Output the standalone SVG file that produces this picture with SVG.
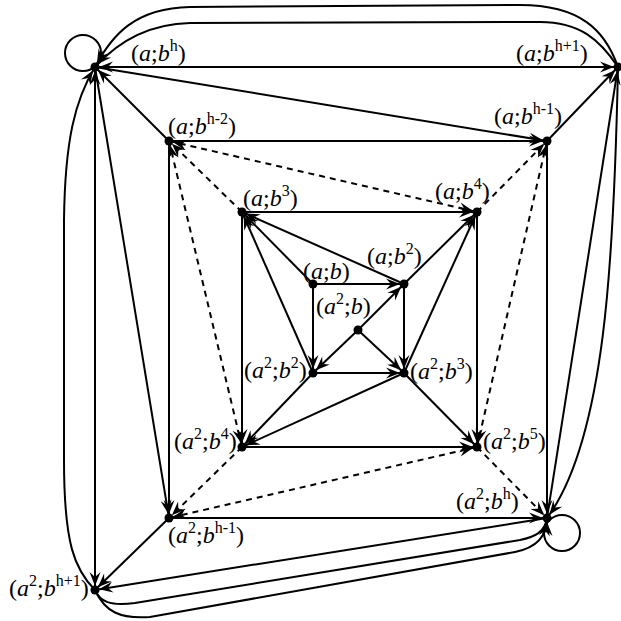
<svg xmlns="http://www.w3.org/2000/svg" width="621" height="621" viewBox="0 0 621 621">
<defs>
<marker id="ar" viewBox="-16 -6 20 12" refX="4" refY="0" markerWidth="20" markerHeight="12" markerUnits="userSpaceOnUse" orient="auto-start-reverse">
<path d="M0,0 L-14,-5.5 L-9,0 L-14,5.5 Z" fill="#000"/>
</marker>
<style>
.e{fill:none;stroke:#000;stroke-width:2}
.d{fill:none;stroke:#000;stroke-width:2;stroke-dasharray:6 5}
.a{marker-end:url(#ar)}
.b{marker-start:url(#ar);marker-end:url(#ar)}
.n{fill:#000}
.l{fill:none;stroke:#000;stroke-width:2}
text{font-family:"Liberation Serif","Times New Roman",serif;font-size:24px;fill:#000}
.i{font-style:italic}
.s{font-size:16px}
</style>
</defs>
<rect width="621" height="621" fill="#fff"/>
<g id="connectors">
<line class="e a" x1="313" y1="284" x2="404" y2="284"/>
<line class="e a" x1="313" y1="284" x2="313" y2="373"/>
<line class="e a" x1="404" y1="284" x2="404" y2="373"/>
<line class="e a" x1="313" y1="373" x2="404" y2="373"/>
<line class="e a" x1="358" y1="330" x2="404" y2="284"/>
<line class="e a" x1="358" y1="330" x2="313" y2="373"/>
<line class="e a" x1="358" y1="330" x2="404" y2="373"/>
<line class="e a" x1="313" y1="284" x2="242" y2="212"/>
<line class="e a" x1="404" y1="284" x2="242" y2="212"/>
<line class="e a" x1="313" y1="373" x2="242" y2="212"/>
<line class="e a" x1="242" y1="212" x2="477" y2="212"/>
<line class="e a" x1="404" y1="284" x2="477" y2="212"/>
<line class="e a" x1="404" y1="373" x2="477" y2="212"/>
<line class="e a" x1="242" y1="212" x2="242" y2="447"/>
<line class="e a" x1="313" y1="373" x2="242" y2="447"/>
<line class="e a" x1="404" y1="373" x2="242" y2="447"/>
<line class="e a" x1="242" y1="447" x2="477" y2="447"/>
<line class="e a" x1="404" y1="373" x2="477" y2="447"/>
<line class="e a" x1="477" y1="212" x2="477" y2="447"/>
<line class="e a" x1="169" y1="141" x2="547" y2="141"/>
<line class="e a" x1="169" y1="141" x2="169" y2="518"/>
<line class="e a" x1="547" y1="141" x2="547" y2="518"/>
<line class="e a" x1="169" y1="518" x2="547" y2="518"/>
<line class="e a" x1="169" y1="141" x2="95" y2="67"/>
<line class="e a" x1="547" y1="141" x2="618" y2="67"/>
<line class="e a" x1="169" y1="518" x2="95" y2="590"/>
<line class="e b" x1="95" y1="67" x2="618" y2="67"/>
<line class="e b" x1="95" y1="67" x2="95" y2="590"/>
<line class="e a" x1="95" y1="67" x2="547" y2="141"/>
<line class="e a" x1="95" y1="67" x2="169" y2="518"/>
<line class="e a" x1="547" y1="518" x2="95" y2="590"/>
<line class="e a" x1="547" y1="518" x2="618" y2="67"/>
<path class="e a" d="M618,67 C605,30 580,5 520,5 L190,7 C135,8 112,35 95,67"/>
<path class="e a" d="M618,67 C600,40 580,22 540,22 L190,23 C145,24 115,45 95,67"/>
<path class="e a" d="M95,590 C75,570 64,545 64,460 L64,220 C65,140 75,100 95,67"/>
<path class="e a" d="M618,67 C614,260 605,440 547,518"/>
<path class="e a" d="M95,590 C100,602 110,606 135,603 L520,540 C535,537 545,532 547,518"/>
<path class="e a" d="M95,590 C105,612 120,619 150,617 L515,552 C535,548 547,538 547,518"/>
<line class="d a" x1="242" y1="212" x2="169" y2="141"/>
<line class="d b" x1="169" y1="141" x2="477" y2="212"/>
<line class="d a" x1="477" y1="212" x2="547" y2="141"/>
<line class="d b" x1="169" y1="141" x2="242" y2="447"/>
<line class="d a" x1="242" y1="447" x2="169" y2="518"/>
<line class="d b" x1="477" y1="447" x2="169" y2="518"/>
<line class="d a" x1="477" y1="447" x2="547" y2="518"/>
<line class="d b" x1="477" y1="447" x2="547" y2="141"/>
<circle class="l" cx="83" cy="53" r="18"/>
<circle class="l" cx="562" cy="533" r="18"/>
</g>
<g id="n-abh"><circle class="n" cx="95" cy="67" r="4.5"/><text x="131" y="61">(<tspan class="i">a</tspan>;<tspan class="i">b</tspan><tspan class="s" dy="-10">h</tspan><tspan dy="10">)</tspan></text></g>
<g id="n-abh1"><circle class="n" cx="618" cy="67" r="4.5"/><text x="516" y="61">(<tspan class="i">a</tspan>;<tspan class="i">b</tspan><tspan class="s" dy="-10">h+1</tspan><tspan dy="10">)</tspan></text></g>
<g id="n-abhm1"><circle class="n" cx="547" cy="141" r="4.5"/><text x="494" y="124">(<tspan class="i">a</tspan>;<tspan class="i">b</tspan><tspan class="s" dy="-10">h-1</tspan><tspan dy="10">)</tspan></text></g>
<g id="n-abhm2"><circle class="n" cx="169" cy="141" r="4.5"/><text x="168" y="134">(<tspan class="i">a</tspan>;<tspan class="i">b</tspan><tspan class="s" dy="-10">h-2</tspan><tspan dy="10">)</tspan></text></g>
<g id="n-ab3"><circle class="n" cx="242" cy="212" r="4.5"/><text x="243" y="206">(<tspan class="i">a</tspan>;<tspan class="i">b</tspan><tspan class="s" dy="-10">3</tspan><tspan dy="10">)</tspan></text></g>
<g id="n-ab4"><circle class="n" cx="477" cy="212" r="4.5"/><text x="435" y="199">(<tspan class="i">a</tspan>;<tspan class="i">b</tspan><tspan class="s" dy="-10">4</tspan><tspan dy="10">)</tspan></text></g>
<g id="n-ab"><circle class="n" cx="313" cy="284" r="4.5"/><text x="303" y="279">(<tspan class="i">a</tspan>;<tspan class="i">b</tspan>)</text></g>
<g id="n-ab2"><circle class="n" cx="404" cy="284" r="4.5"/><text x="367" y="264">(<tspan class="i">a</tspan>;<tspan class="i">b</tspan><tspan class="s" dy="-10">2</tspan><tspan dy="10">)</tspan></text></g>
<g id="n-a2b"><circle class="n" cx="358" cy="330" r="4.5"/><text x="316" y="314">(<tspan class="i">a</tspan><tspan class="s" dy="-10">2</tspan><tspan dy="10">;</tspan><tspan class="i">b</tspan>)</text></g>
<g id="n-a2b2"><circle class="n" cx="313" cy="373" r="4.5"/><text x="244" y="378">(<tspan class="i">a</tspan><tspan class="s" dy="-10">2</tspan><tspan dy="10">;</tspan><tspan class="i">b</tspan><tspan class="s" dy="-10">2</tspan><tspan dy="10">)</tspan></text></g>
<g id="n-a2b3"><circle class="n" cx="404" cy="373" r="4.5"/><text x="410" y="379">(<tspan class="i">a</tspan><tspan class="s" dy="-10">2</tspan><tspan dy="10">;</tspan><tspan class="i">b</tspan><tspan class="s" dy="-10">3</tspan><tspan dy="10">)</tspan></text></g>
<g id="n-a2b4"><circle class="n" cx="242" cy="447" r="4.5"/><text x="174" y="449">(<tspan class="i">a</tspan><tspan class="s" dy="-10">2</tspan><tspan dy="10">;</tspan><tspan class="i">b</tspan><tspan class="s" dy="-10">4</tspan><tspan dy="10">)</tspan></text></g>
<g id="n-a2b5"><circle class="n" cx="477" cy="447" r="4.5"/><text x="483" y="449">(<tspan class="i">a</tspan><tspan class="s" dy="-10">2</tspan><tspan dy="10">;</tspan><tspan class="i">b</tspan><tspan class="s" dy="-10">5</tspan><tspan dy="10">)</tspan></text></g>
<g id="n-a2bhm1"><circle class="n" cx="169" cy="518" r="4.5"/><text x="168" y="543">(<tspan class="i">a</tspan><tspan class="s" dy="-10">2</tspan><tspan dy="10">;</tspan><tspan class="i">b</tspan><tspan class="s" dy="-10">h-1</tspan><tspan dy="10">)</tspan></text></g>
<g id="n-a2bh"><circle class="n" cx="547" cy="518" r="4.5"/><text x="456" y="509">(<tspan class="i">a</tspan><tspan class="s" dy="-10">2</tspan><tspan dy="10">;</tspan><tspan class="i">b</tspan><tspan class="s" dy="-10">h</tspan><tspan dy="10">)</tspan></text></g>
<g id="n-a2bh1"><circle class="n" cx="95" cy="590" r="4.5"/><text x="9" y="596">(<tspan class="i">a</tspan><tspan class="s" dy="-10">2</tspan><tspan dy="10">;</tspan><tspan class="i">b</tspan><tspan class="s" dy="-10">h+1</tspan><tspan dy="10">)</tspan></text></g>
</svg>
